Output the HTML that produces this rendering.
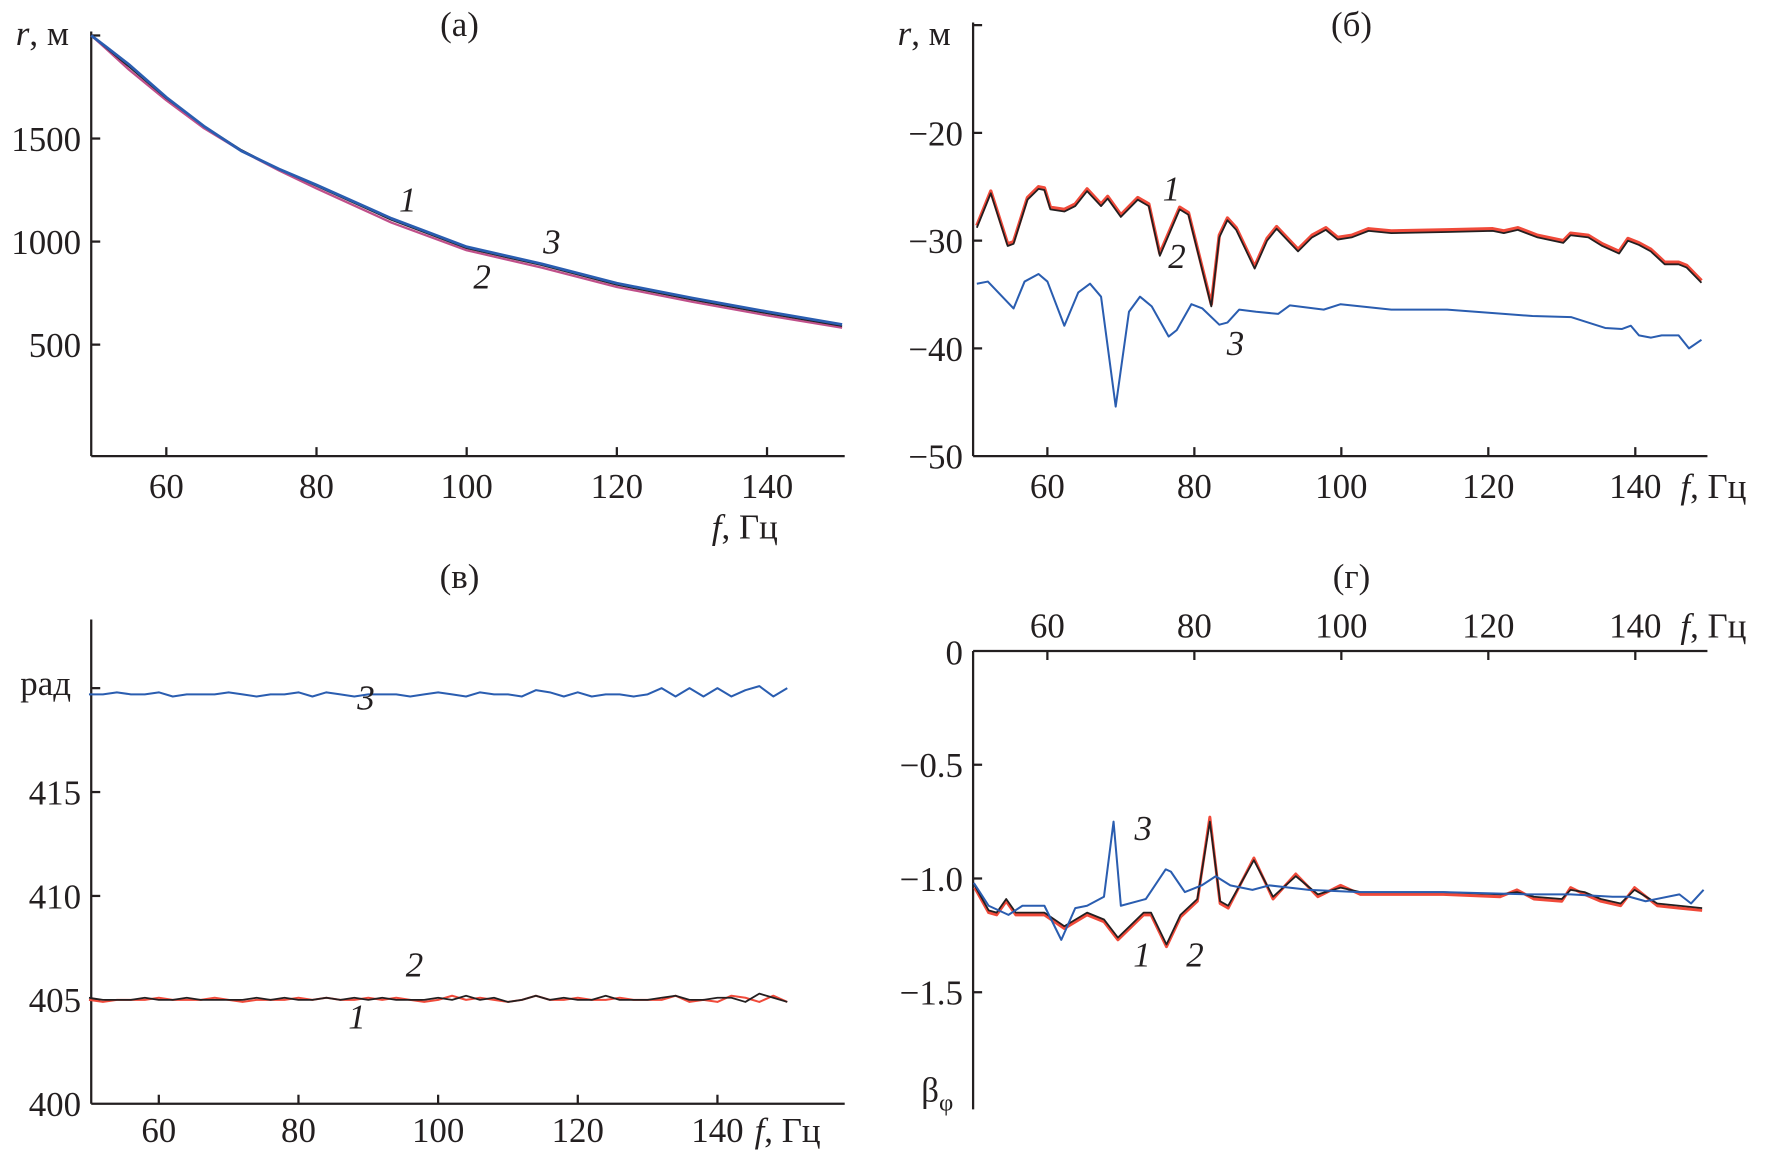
<!DOCTYPE html>
<html><head><meta charset="utf-8"><style>
html,body{margin:0;padding:0;background:#fff;}
svg{display:block;font-family:"Liberation Serif","Times New Roman",serif;}
svg text{font-family:"Liberation Serif","Times New Roman",serif;fill:#231f20;}
</style></head><body>
<svg id="chart" width="1766" height="1156" viewBox="0 0 1568 1026.4" preserveAspectRatio="none" font-family="Liberation Serif, serif" xmlns="http://www.w3.org/2000/svg"></svg>
<script>
// Panel (a) data: r vs f
const aFreq = [50,52,55,60,65,70,75,80,90,100,110,120,130,140,150];
const aS1 = [2000,1940,1850,1695,1560,1445,1350,1270,1105,968,885,790,718,652,590];
const aS2 = [2000,1935,1835,1685,1550,1440,1345,1258,1092,958,874,780,708,642,582];
const aS3 = [2000,1945,1860,1700,1560,1440,1352,1275,1112,975,892,798,726,660,598];
// Panel (б) data
const bFreq1 = [50.4,52.3,54.6,55.4,57.3,58.8,59.6,60.4,62.3,63.8,65.4,67.3,68.2,70,72.3,73.8,75.3,78,79.2,82.3,83.4,84.5,85.7,88.2,89.9,91.2,94.1,96,97.9,99.5,101.4,103.7,106.8,114.4,120.6,122.1,124,126.7,130.2,131.2,133.6,135.5,137.8,139,140.5,142.1,144,145.9,147,149];
const bS1 = [-28.6,-25.4,-30.3,-30.1,-26,-25,-25.1,-26.9,-27.1,-26.6,-25.2,-26.6,-25.9,-27.6,-26,-26.6,-31.2,-26.9,-27.4,-35.9,-29.5,-27.9,-28.8,-32.4,-29.8,-28.7,-30.8,-29.5,-28.8,-29.7,-29.5,-28.9,-29.1,-29,-28.9,-29.1,-28.8,-29.5,-30,-29.3,-29.5,-30.3,-31,-29.8,-30.2,-30.8,-32,-32,-32.3,-33.7];
const bS2 = [-28.8,-25.6,-30.5,-30.3,-26.2,-25.2,-25.3,-27.1,-27.3,-26.8,-25.4,-26.8,-26.1,-27.8,-26.2,-26.8,-31.4,-27.1,-27.6,-36.1,-29.7,-28.1,-29,-32.6,-30,-28.9,-31,-29.7,-29,-29.9,-29.7,-29.1,-29.3,-29.2,-29.1,-29.3,-29,-29.7,-30.2,-29.5,-29.7,-30.5,-31.2,-30,-30.4,-31,-32.2,-32.2,-32.5,-33.9];
const bFreq3 = [50.4,51.9,55.4,56.9,58.8,60,62.3,64.2,65.8,67.3,69.3,71.1,72.6,74.2,76.5,77.6,79.6,81.1,83.4,84.5,86.1,88.4,91.4,93,97.6,99.9,106.8,114.4,122.1,126,131.3,133.6,135.9,138.2,139.4,140.5,142.1,143.6,145.9,147.3,149];
const bS3 = [-34,-33.8,-36.3,-33.8,-33.1,-33.8,-37.9,-34.8,-34,-35.2,-45.4,-36.6,-35.2,-36.1,-38.9,-38.3,-35.9,-36.3,-37.8,-37.6,-36.4,-36.6,-36.8,-36,-36.4,-35.9,-36.4,-36.4,-36.8,-37,-37.1,-37.6,-38.1,-38.2,-37.9,-38.8,-39,-38.8,-38.8,-40,-39.2];
// Panel (в) data (every 2 Hz, 50..150)
const cFreq = [50,52,54,56,58,60,62,64,66,68,70,72,74,76,78,80,82,84,86,88,90,92,94,96,98,100,102,104,106,108,110,112,114,116,118,120,122,124,126,128,130,132,134,136,138,140,142,144,146,148,150];
const cS1 = [405.0,404.9,405.0,405.0,405.0,405.1,405.0,405.0,405.0,405.1,405.0,404.9,405.0,405.0,405.0,405.1,405.0,405.1,405.0,405.0,405.1,405.0,405.1,405.0,404.9,405.0,405.2,405.0,405.1,405.0,404.9,405.0,405.2,405.0,405.0,405.1,405.0,405.0,405.1,405.0,405.0,405.0,405.2,404.9,405.0,404.9,405.2,405.1,404.9,405.2,404.9];
const cS2 = [405.1,405.0,405.0,405.0,405.1,405.0,405.0,405.1,405.0,405.0,405.0,405.0,405.1,405.0,405.1,405.0,405.0,405.1,405.0,405.1,405.0,405.1,405.0,405.0,405.0,405.1,405.0,405.2,405.0,405.1,404.9,405.0,405.2,405.0,405.1,405.0,405.0,405.2,405.0,405.0,405.0,405.1,405.2,405.0,405.0,405.1,405.1,404.9,405.3,405.1,404.9];
const cS3 = [419.7,419.7,419.8,419.7,419.7,419.8,419.6,419.7,419.7,419.7,419.8,419.7,419.6,419.7,419.7,419.8,419.6,419.8,419.7,419.6,419.7,419.7,419.7,419.6,419.7,419.8,419.7,419.6,419.8,419.7,419.7,419.6,419.9,419.8,419.6,419.8,419.6,419.7,419.7,419.6,419.7,420.0,419.6,420.0,419.6,420.0,419.6,419.9,420.1,419.6,420.0];
// Panel (г) data
const dFreq1 = [50.1,52,53.1,54.4,55.7,59.6,62.3,65.4,67.7,69.6,73.1,74.1,76.2,78.1,80.4,82.1,83.5,84.6,88.1,90.7,93.8,96.8,99.9,102.6,113.9,121.6,123.9,126.2,130,131.2,133.1,135.3,138,139.9,143,146,149.1];
const dS1 = [-1.03,-1.14,-1.15,-1.09,-1.15,-1.15,-1.21,-1.15,-1.18,-1.26,-1.15,-1.15,-1.29,-1.16,-1.09,-0.75,-1.1,-1.12,-0.92,-1.08,-0.99,-1.07,-1.04,-1.06,-1.06,-1.07,-1.06,-1.08,-1.09,-1.05,-1.06,-1.09,-1.11,-1.05,-1.11,-1.12,-1.13];
const dS2 = [-1.04,-1.15,-1.16,-1.1,-1.16,-1.16,-1.22,-1.16,-1.19,-1.27,-1.16,-1.16,-1.3,-1.17,-1.1,-0.73,-1.11,-1.13,-0.91,-1.09,-0.98,-1.08,-1.03,-1.07,-1.07,-1.08,-1.05,-1.09,-1.1,-1.04,-1.07,-1.1,-1.12,-1.04,-1.12,-1.13,-1.14];
const dFreq3 = [50,52,54.7,56.6,59.6,61.9,63.8,65.4,67.7,69,70,73.4,76.1,76.8,78.7,81,82.9,84.9,87.9,90.2,95.6,102.5,113.9,125.4,131.2,136.9,139.2,141.4,146,147.6,149.3];
const dS3 = [-1.02,-1.12,-1.16,-1.12,-1.12,-1.27,-1.13,-1.12,-1.08,-0.75,-1.12,-1.09,-0.96,-0.97,-1.06,-1.03,-0.99,-1.03,-1.05,-1.03,-1.05,-1.06,-1.06,-1.07,-1.07,-1.08,-1.08,-1.1,-1.07,-1.11,-1.05];

const svg = document.getElementById('chart');
const NS = 'http://www.w3.org/2000/svg';
function mk(tag, attrs, parent) {
  const el = document.createElementNS(NS, tag);
  for (const k in attrs) el.setAttribute(k, attrs[k]);
  (parent || svg).appendChild(el);
  return el;
}
function txt(s, x, y, size, anchor, italic, name) {
  const t = mk('text', {x: x, y: y, 'font-size': size, 'text-anchor': anchor || 'middle', 'font-family': 'Liberation Serif, serif'});
  if (italic) t.setAttribute('font-style', 'italic');
  t.textContent = s;
  
  
  return t;
}
function line(x1, y1, x2, y2, name) {
  const l = mk('line', {x1: x1, y1: y1, x2: x2, y2: y2, stroke: '#231f20', 'stroke-width': 2});
  
  
}
function series(fs, vs, X, Y, color, w, name) {
  const d = fs.map((f, i) => (i ? 'L' : 'M') + X(f).toFixed(1) + ' ' + Y(vs[i]).toFixed(1)).join(' ');
  const p = mk('path', {d: d, fill: 'none', stroke: color, 'stroke-width': w, 'stroke-linejoin': 'round'});
  
  
}
const RED = '#f04a3a', BLACK = '#231f20', BLUE = '#2a5db0';
const FS = 31;
const xTicks = [60, 80, 100, 120, 140];

// ---------- Panel (a) ----------
{
  const X = f => 81 + (f - 50) * 6.667;
  const Y = v => 123 + (1500 - v) * 0.183;
  line(81, 28, 81, 405, 'panel-a-y-axis');
  line(81, 405, 750, 405, 'panel-a-x-axis');
  [2000, 1500, 1000, 500].forEach(v => {
    line(81, Y(v), 89, Y(v), 'panel-a-y-tick');
    if (v !== 2000) txt(String(v), 72, Y(v) + 11, FS, 'end', false, 'panel-a-y-tick-label');
  });
  xTicks.forEach(f => { line(X(f), 405, X(f), 397, 'panel-a-x-tick'); txt(String(f), X(f), 442, FS, 'middle', false, 'panel-a-x-tick-label'); });
  series(aFreq, aS2, X, Y, '#c0508a', 2, 'panel-a-series-2');
  series(aFreq, aS1, X, Y, BLACK, 1.5, 'panel-a-series-1');
  series(aFreq, aS3, X, Y, BLUE, 2.5, 'panel-a-series-3');
  txt('(a)', 408, 32, FS, 'middle', false, 'panel-a-title');
  const t = txt('', 14, 40, FS, 'start', false, 'panel-a-y-axis-title');
  t.innerHTML = '<tspan font-style="italic">r</tspan>, м';
  const tx = txt('', 632, 478, FS, 'start', false, 'panel-a-x-axis-title');
  tx.innerHTML = '<tspan font-style="italic">f</tspan>, Гц';
  txt('1', 362, 188, FS, 'middle', true, 'panel-a-label-1');
  txt('3', 490, 225, FS, 'middle', true, 'panel-a-label-3');
  txt('2', 428, 256, FS, 'middle', true, 'panel-a-label-2');
}
// ---------- Panel (б) ----------
{
  const X = f => 864.7 + (f - 50) * 6.525;
  const Y = v => 405 - (v + 50) * 9.567;
  line(864, 20, 864, 405, 'panel-b-y-axis');
  line(864, 405, 1516, 405, 'panel-b-x-axis');
  [-10, -20, -30, -40].forEach(v => {
    line(864, Y(v), 872, Y(v), 'panel-b-y-tick');
    if (v !== -10) txt('−' + (-v), 855, Y(v) + 11, FS, 'end', false, 'panel-b-y-tick-label');
  });
  txt('−50', 855, 416, FS, 'end', false, 'panel-b-y-tick-label');
  xTicks.forEach(f => { line(X(f), 405, X(f), 397, 'panel-b-x-tick'); txt(String(f), X(f), 442, FS, 'middle', false, 'panel-b-x-tick-label'); });
  series(bFreq1, bS1, X, Y, RED, 3, 'panel-b-series-1');
  series(bFreq1, bS2, X, Y, BLACK, 1.6, 'panel-b-series-2');
  series(bFreq3, bS3, X, Y, BLUE, 1.8, 'panel-b-series-3');
  txt('(б)', 1200, 32, FS, 'middle', false, 'panel-b-title');
  const t = txt('', 797, 40, FS, 'start', false, 'panel-b-y-axis-title');
  t.innerHTML = '<tspan font-style="italic">r</tspan>, м';
  const tx = txt('', 1492, 442, FS, 'start', false, 'panel-b-x-axis-title');
  tx.innerHTML = '<tspan font-style="italic">f</tspan>, Гц';
  txt('1', 1040, 178, FS, 'middle', true, 'panel-b-label-1');
  txt('2', 1045, 238, FS, 'middle', true, 'panel-b-label-2');
  txt('3', 1097, 315, FS, 'middle', true, 'panel-b-label-3');
}
// ---------- Panel (в) ----------
{
  const X = f => 79 + (f - 50) * 6.2;
  const Y = v => 980 - (v - 400) * 18.45;
  line(81, 550, 81, 980, 'panel-c-y-axis');
  line(81, 980, 750, 980, 'panel-c-x-axis');
  [420, 415, 410, 405].forEach(v => {
    line(81, Y(v), 89, Y(v), 'panel-c-y-tick');
    if (v !== 420) txt(String(v), 72, Y(v) + 11, FS, 'end', false, 'panel-c-y-tick-label');
  });
  txt('400', 72, 991, FS, 'end', false, 'panel-c-y-tick-label');
  xTicks.forEach(f => { line(X(f), 980, X(f), 972, 'panel-c-x-tick'); txt(String(f), X(f), 1014, FS, 'middle', false, 'panel-c-x-tick-label'); });
  series(cFreq, cS1, X, Y, RED, 1.8, 'panel-c-series-1');
  series(cFreq, cS2, X, Y, BLACK, 1.6, 'panel-c-series-2');
  series(cFreq, cS3, X, Y, BLUE, 1.8, 'panel-c-series-3');
  txt('(в)', 408, 522, FS, 'middle', false, 'panel-c-title');
  txt('рад', 18, 617, FS, 'start', false, 'panel-c-y-axis-title');
  const tx = txt('', 670, 1014, FS, 'start', false, 'panel-c-x-axis-title');
  tx.innerHTML = '<tspan font-style="italic">f</tspan>, Гц';
  txt('3', 325, 630, FS, 'middle', true, 'panel-c-label-3');
  txt('2', 368, 867, FS, 'middle', true, 'panel-c-label-2');
  txt('1', 317, 913, FS, 'middle', true, 'panel-c-label-1');
}
// ---------- Panel (г) ----------
{
  const X = f => 864.7 + (f - 50) * 6.525;
  const Y = v => 578 - v * 202;
  line(864, 578, 864, 985, 'panel-d-y-axis');
  line(864, 578, 1516, 578, 'panel-d-x-axis');
  [-0.5, -1.0, -1.5].forEach(v => {
    line(864, Y(v), 872, Y(v), 'panel-d-y-tick');
    txt('−' + (-v).toFixed(1), 855, Y(v) + 11, FS, 'end', false, 'panel-d-y-tick-label');
  });
  txt('0', 855, 590, FS, 'end', false, 'panel-d-y-tick-label');
  xTicks.forEach(f => { line(X(f), 578, X(f), 586, 'panel-d-x-tick'); txt(String(f), X(f), 566, FS, 'middle', false, 'panel-d-x-tick-label'); });
  series(dFreq1, dS2, X, Y, RED, 2.6, 'panel-d-series-2');
  series(dFreq1, dS1, X, Y, BLACK, 1.6, 'panel-d-series-1');
  series(dFreq3, dS3, X, Y, BLUE, 1.8, 'panel-d-series-3');
  txt('(г)', 1200, 522, FS, 'middle', false, 'panel-d-title');
  const b = txt('', 818, 978, FS, 'start', false, 'panel-d-y-axis-title');
  b.innerHTML = 'β<tspan font-size="22" dy="8">φ</tspan>';
  const tx = txt('', 1492, 566, FS, 'start', false, 'panel-d-x-axis-title');
  tx.innerHTML = '<tspan font-style="italic">f</tspan>, Гц';
  txt('3', 1015, 746, FS, 'middle', true, 'panel-d-label-3');
  txt('1', 1014, 858, FS, 'middle', true, 'panel-d-label-1');
  txt('2', 1061, 858, FS, 'middle', true, 'panel-d-label-2');
}
</script>
</body></html>
